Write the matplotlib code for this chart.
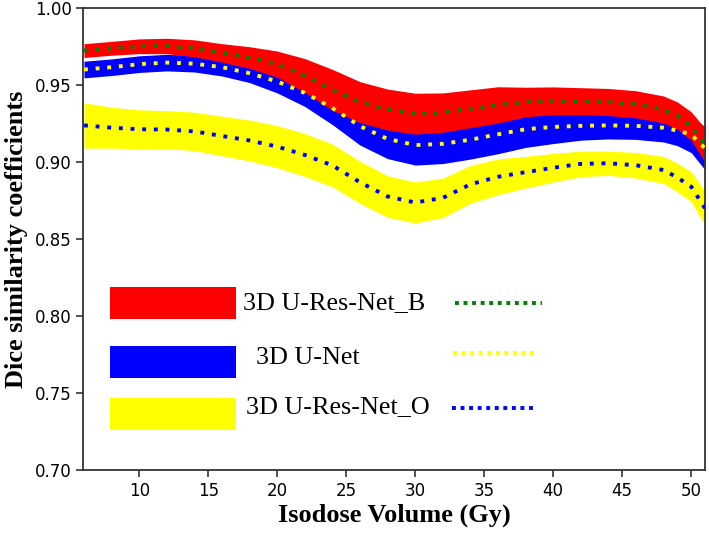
import numpy as np
import matplotlib
matplotlib.use("Agg")
import matplotlib.pyplot as plt
from matplotlib.patches import Rectangle

# isodose levels (Gy)
dose = [6, 8, 10, 12, 14, 16, 18, 20, 22, 24, 26, 28, 30, 32, 34, 36,
        38, 40, 42, 44, 46, 48, 49, 50, 51]

# 3D U-Res-Net_B
resnet_b_mean = [0.9725, 0.974, 0.9753, 0.9755, 0.974, 0.971, 0.968, 0.9637,
                 0.9563, 0.947, 0.939, 0.9342, 0.9315, 0.9322, 0.9347, 0.9372,
                 0.9391, 0.9399, 0.9396, 0.9391, 0.9376, 0.9342, 0.9303, 0.9234, 0.911]
resnet_b_std = [0.0045, 0.0045, 0.0048, 0.005, 0.0055, 0.006, 0.007, 0.0085,
                0.011, 0.0133, 0.0133, 0.0133, 0.0133, 0.0128, 0.0123, 0.0118,
                0.0096, 0.009, 0.0088, 0.0088, 0.0088, 0.0088, 0.0088, 0.0093, 0.011]

# 3D U-Net
unet_mean = [0.9602, 0.9617, 0.9637, 0.9647, 0.964, 0.9617, 0.9578, 0.9524,
             0.945, 0.9352, 0.9234, 0.9151, 0.9111, 0.9119, 0.9146, 0.9181,
             0.9214, 0.9229, 0.9236, 0.9239, 0.9236, 0.9224, 0.9205, 0.918, 0.909]
unet_std = [0.0054, 0.0054, 0.0054, 0.0054, 0.0054, 0.0057, 0.0061, 0.0074,
            0.0088, 0.0108, 0.0123, 0.0128, 0.013, 0.0128, 0.0126, 0.0126,
            0.0118, 0.0108, 0.0093, 0.0088, 0.0088, 0.0093, 0.0098, 0.0118, 0.014]

# 3D U-Res-Net_O
resnet_o_mean = [0.9239, 0.9224, 0.9214, 0.9212, 0.92, 0.917, 0.9141, 0.9101,
                 0.9047, 0.8979, 0.8869, 0.8777, 0.8738, 0.8768, 0.8856, 0.8905,
                 0.8935, 0.8964, 0.8989, 0.8993, 0.898, 0.8949, 0.89, 0.8841, 0.870]
resnet_o_std = [0.0147, 0.0133, 0.0126, 0.0123, 0.0125, 0.0128, 0.0133, 0.0137,
                0.0139, 0.0139, 0.0137, 0.0135, 0.0133, 0.0128, 0.0123, 0.0116,
                0.0103, 0.0093, 0.0083, 0.0079, 0.0083, 0.0088, 0.0093, 0.0098, 0.011]

labels = ["3D U-Res-Net_B", "3D U-Net", "3D U-Res-Net_O"]
band_colors = ["red", "blue", "yellow"]
line_colors = ["green", "yellow", "blue"]

x = np.array(dose)
series = [(np.array(resnet_b_mean), np.array(resnet_b_std)),
          (np.array(unet_mean), np.array(unet_std)),
          (np.array(resnet_o_mean), np.array(resnet_o_std))]

fig = plt.figure(figsize=(7.09, 5.34), dpi=100)
ax = fig.add_axes([0.1175, 0.1199, 0.8769, 0.8646])

# bands: U-Net first so that the B band lies over it
for i in [1, 0, 2]:
    m, s = series[i]
    ax.fill_between(x, m - s, m + s, color=band_colors[i], lw=0, zorder=2)

for i in range(3):
    m, s = series[i]
    ax.plot(x, m, color=line_colors[i], lw=2.8, dashes=(1, 2), zorder=3)

# hand-drawn style legend inside the axes
rect_x = [7.88, 7.88, 7.88]
rect_y = [0.7982, 0.760, 0.7262]
rect_h = 0.0205
text_x = [17.5, 18.46, 17.73]
text_y = [0.8086, 0.7729, 0.7411]
dot_x = [(32.88, 39.17), (32.73, 38.8), (32.66, 38.8)]
dot_y = [0.8084, 0.776, 0.7403]
for i in range(3):
    ax.add_patch(Rectangle((rect_x[i], rect_y[i]), 9.1, rect_h,
                           color=band_colors[i], lw=0, zorder=2))
    ax.text(text_x[i], text_y[i], labels[i], family="Liberation Serif",
            fontsize=18.8, va="center", ha="left", zorder=4)
    ax.plot(dot_x[i], [dot_y[i], dot_y[i]], color=line_colors[i], lw=2.8,
            dashes=(1, 1.2), zorder=3)

ax.set_xlim(5.95, 51.0)
ax.set_ylim(0.70, 1.00)
ax.set_xticks(range(10, 51, 5))
ax.set_yticks(np.arange(0.70, 1.001, 0.05))
ax.yaxis.set_major_formatter(matplotlib.ticker.FormatStrFormatter("%.2f"))
ax.tick_params(labelsize=12, length=5, width=1.2, color="#333333")
for sp in ax.spines.values():
    sp.set_linewidth(1.3)
    sp.set_color("#333333")

ax.set_xlabel("Isodose Volume (Gy)", family="Liberation Serif", fontweight="bold",
              fontsize=19, labelpad=3)
ax.set_ylabel("Dice similarity coefficients", family="Liberation Serif",
              fontweight="bold", fontsize=19, labelpad=5)

fig.savefig("out.png", dpi=100)
